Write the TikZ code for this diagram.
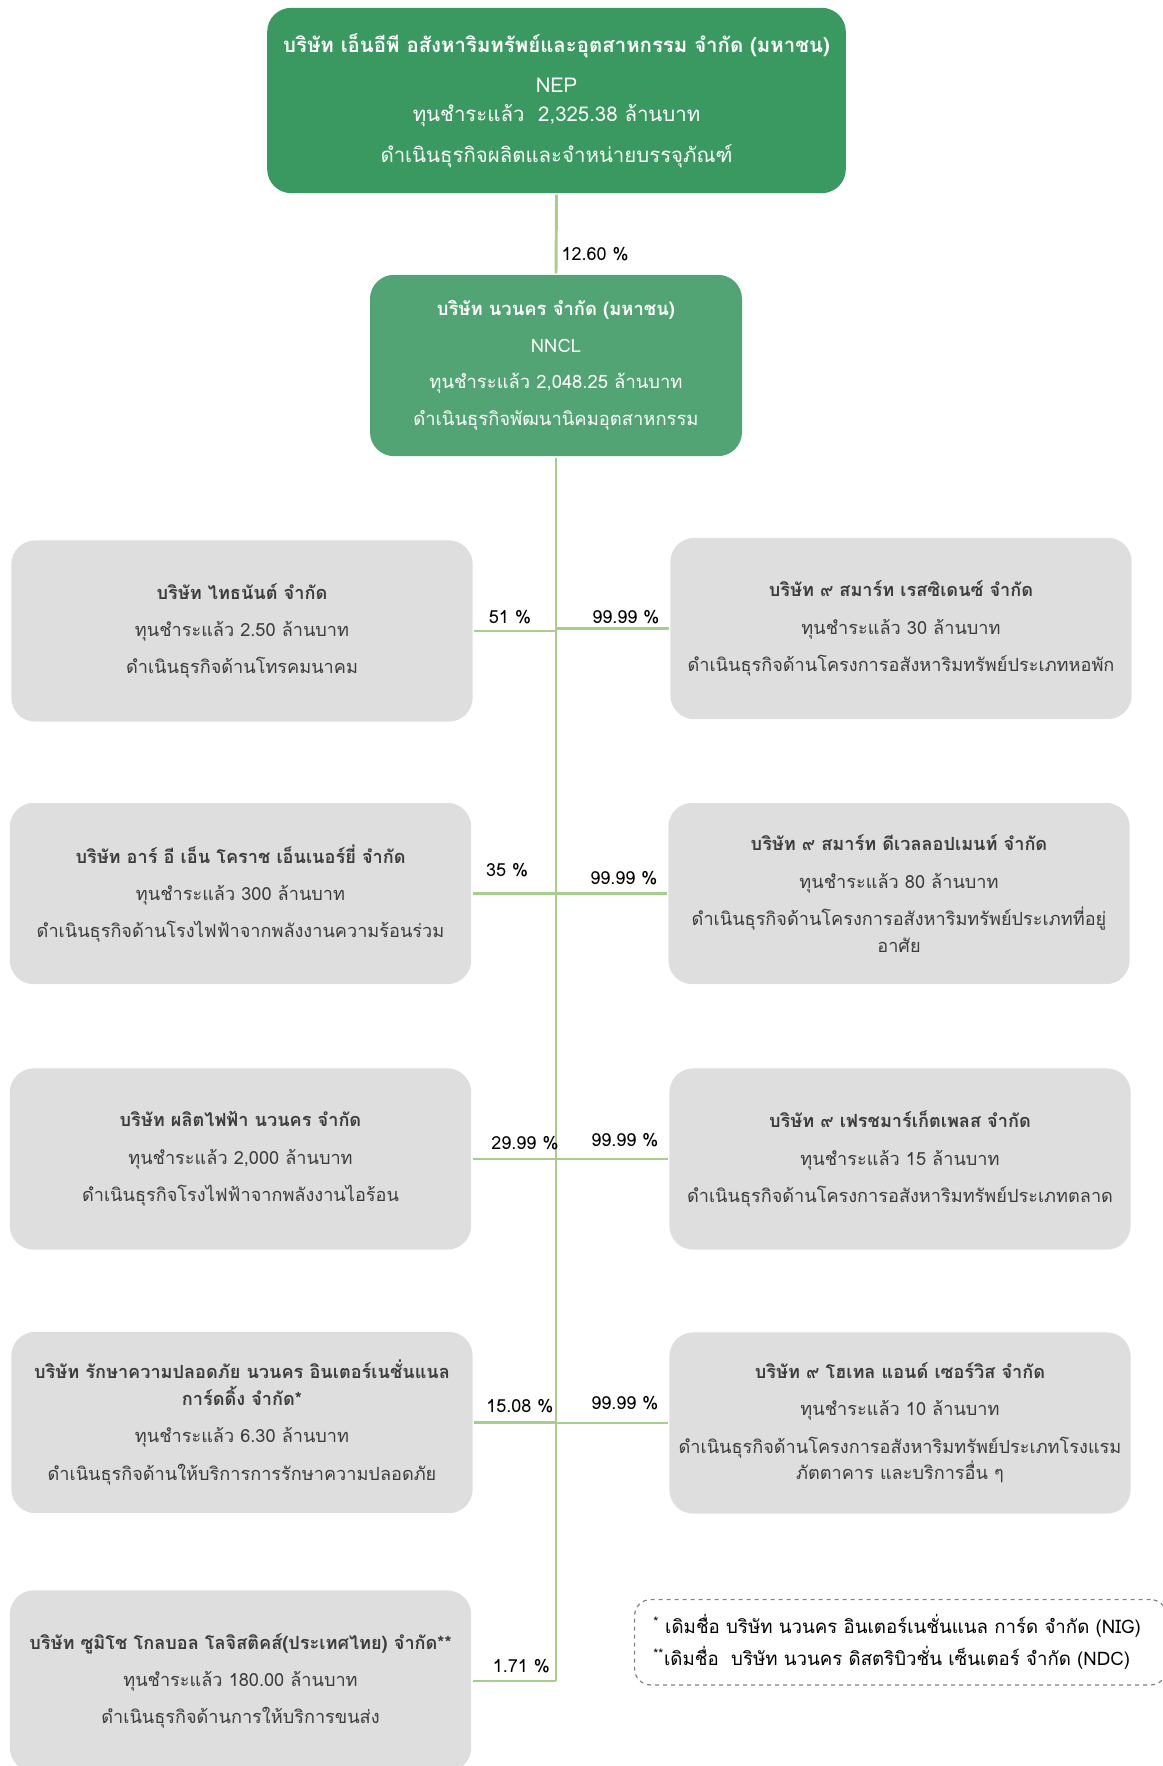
\documentclass[tikz,border=0pt]{standalone}
\usepackage{fontspec}
\usepackage{tikz}
\newfontfamily\thaifont[Script=Thai]{Loma}
\definecolor{nepgreen}{RGB}{58,153,96}
\definecolor{nnclgreen}{RGB}{82,164,116}
\definecolor{boxgray}{RGB}{222,222,222}
\definecolor{linkgreen}{RGB}{168,206,142}
\definecolor{txtgray}{RGB}{60,60,60}
\newcommand{\gp}{\\[8pt]}

\begin{document}
\begin{tikzpicture}[x=0.75pt, y=-0.75pt, line width=2.2pt,
    every node/.style={font=\thaifont},
    green node/.style={rectangle, rounded corners=18pt, text=white, align=center,
                       font=\thaifont\fontsize{15.3}{22}\selectfont},
    sub node/.style={rectangle, rounded corners=18pt, fill=boxgray, text=txtgray,
                     align=center, minimum width=346pt, minimum height=136pt,
                     font=\thaifont\fontsize{13.6}{20}\selectfont},
    pct/.style={font=\thaifont\fontsize{13.5}{15}\selectfont, text=black, inner sep=1pt}]
  \useasboundingbox (0,0) rectangle (1163,1766);

  \node[green node, fill=nepgreen, minimum width=434pt, minimum height=139pt] (0) at (556.5,100.5)
    {\textbf{บริษัท เอ็นอีพี อสังหาริมทรัพย์และอุตสาหกรรม จำกัด (มหาชน)}\\[8.4pt]
     NEP\\ทุนชำระแล้ว~~2,325.38 ล้านบาท\\[8.4pt]ดำเนินธุรกิจผลิตและจำหน่ายบรรจุภัณฑ์};
  \node[green node, fill=nnclgreen, minimum width=279pt, minimum height=136pt,
        font=\thaifont\fontsize{13.8}{20}\selectfont] (1) at (556,365.5)
    {\textbf{บริษัท นวนคร จำกัด (มหาชน)}\\[7.4pt]NNCL\\[7.4pt]ทุนชำระแล้ว 2,048.25 ล้านบาท\\[7.4pt]ดำเนินธุรกิจพัฒนานิคมอุตสาหกรรม};

  % left column
  \node[sub node] (2) at (242,631)
    {\textbf{บริษัท ไทธนันต์ จำกัด}\gp ทุนชำระแล้ว 2.50 ล้านบาท\gp ดำเนินธุรกิจด้านโทรคมนาคม};
  \node[sub node] (3) at (240.5,893.5)
    {\textbf{บริษัท อาร์ อี เอ็น โคราช เอ็นเนอร์ยี่ จำกัด}\gp ทุนชำระแล้ว 300 ล้านบาท\gp ดำเนินธุรกิจด้านโรงไฟฟ้าจากพลังงานความร้อนร่วม};
  \node[sub node] (4) at (240.5,1159)
    {\textbf{บริษัท ผลิตไฟฟ้า นวนคร จำกัด}\gp ทุนชำระแล้ว 2,000 ล้านบาท\gp ดำเนินธุรกิจโรงไฟฟ้าจากพลังงานไอร้อน};
  \node[sub node] (5) at (242,1422.5)
    {\textbf{บริษัท รักษาความปลอดภัย นวนคร อินเตอร์เนชั่นแนล}\\\textbf{การ์ดดิ้ง จำกัด*}\gp ทุนชำระแล้ว 6.30 ล้านบาท\gp ดำเนินธุรกิจด้านให้บริการการรักษาความปลอดภัย};
  \node[sub node] (6) at (240.5,1681)
    {\textbf{บริษัท ซูมิโช โกลบอล โลจิสติคส์(ประเทศไทย) จำกัด**}\gp ทุนชำระแล้ว 180.00 ล้านบาท\gp ดำเนินธุรกิจด้านการให้บริการขนส่ง};

  % right column
  \node[sub node] (7) at (901,628.5)
    {\textbf{บริษัท ๙ สมาร์ท เรสซิเดนซ์ จำกัด}\gp ทุนชำระแล้ว 30 ล้านบาท\gp ดำเนินธุรกิจด้านโครงการอสังหาริมทรัพย์ประเภทหอพัก};
  \node[sub node] (8) at (899,893.5)
    {\textbf{บริษัท ๙ สมาร์ท ดีเวลลอปเมนท์ จำกัด}\gp ทุนชำระแล้ว 80 ล้านบาท\gp ดำเนินธุรกิจด้านโครงการอสังหาริมทรัพย์ประเภทที่อยู่\\อาศัย};
  \node[sub node] (9) at (900,1159)
    {\textbf{บริษัท ๙ เฟรชมาร์เก็ตเพลส จำกัด}\gp ทุนชำระแล้ว 15 ล้านบาท\gp ดำเนินธุรกิจด้านโครงการอสังหาริมทรัพย์ประเภทตลาด};
  \node[sub node] (10) at (900,1423)
    {\textbf{บริษัท ๙ โฮเทล แอนด์ เซอร์วิส จำกัด}\gp ทุนชำระแล้ว 10 ล้านบาท\gp ดำเนินธุรกิจด้านโครงการอสังหาริมทรัพย์ประเภทโรงแรม\\ภัตตาคาร และบริการอื่น ๆ};

  % note
  \node[draw=gray, dashed, line width=0.9pt, rounded corners=12pt, align=left, anchor=north west,
        inner xsep=14pt, text width=371pt, minimum height=64pt, text=black,
        font=\thaifont\fontsize{14}{24}\selectfont] (note) at (634,1599)
    {\textsuperscript{*} เดิมชื่อ บริษัท นวนคร อินเตอร์เนชั่นแนล การ์ด จำกัด (NIG)\\
     \textsuperscript{**}เดิมชื่อ~~บริษัท นวนคร ดิสตริบิวชั่น เซ็นเตอร์ จำกัด (NDC)};

  % links
  \path[draw=linkgreen]
    (0.south) edge node[pct, pos=0.75, right, xshift=2pt] {12.60 \%} (1.north)
    (1.south) edge (1.south |- 6.east)
    (6.east) edge node[pct, pos=0, anchor=south west, xshift=13pt, yshift=4pt] {1.71 \%} (1.south |- 6.east)
    (2.east) edge node[pct, pos=0, anchor=south west, xshift=9pt, yshift=3pt] {51 \%} (2.east -| 1.south)
    (3.east) edge node[pct, pos=0, anchor=south west, xshift=8pt, yshift=10pt] {35 \%} (3.east -| 1.south)
    (4.east) edge node[pct, pos=0, anchor=south west, xshift=12pt, yshift=4.5pt] {29.99 \%} (4.east -| 1.south)
    (5.east) edge node[pct, pos=0, anchor=south west, xshift=7pt, yshift=5pt] {15.08 \%} (5.east -| 1.south)
    (7.west) edge node[pct, pos=0, anchor=south east, xshift=-5pt, yshift=1.5pt] {99.99 \%} (7.west -| 1.south)
    (8.west) edge node[pct, pos=0, anchor=south east, xshift=-5pt, yshift=4pt] {99.99 \%} (8.west -| 1.south)
    (9.west) edge node[pct, pos=0, anchor=south east, xshift=-5pt, yshift=7pt] {99.99 \%} (9.west -| 1.south)
    (10.west) edge node[pct, pos=0, anchor=south east, xshift=-5pt, yshift=7.5pt] {99.99 \%} (10.west -| 1.south);
\end{tikzpicture}
\end{document}
